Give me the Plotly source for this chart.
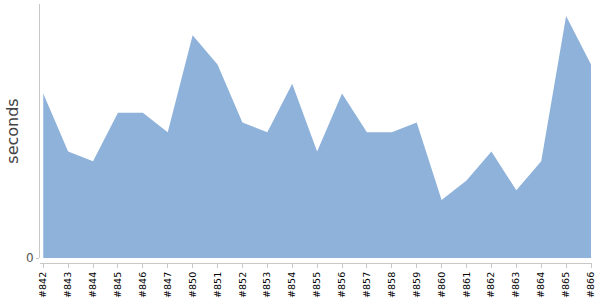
import plotly.graph_objects as go

builds = ["#842", "#843", "#844", "#845", "#846", "#847", "#850", "#851", "#852", "#853",
          "#854", "#855", "#856", "#857", "#858", "#859", "#860", "#861", "#862", "#863",
          "#864", "#865", "#866"]
seconds = [17, 11, 10, 15, 15, 13, 23, 20, 14, 13,
           18, 11, 17, 13, 13, 14, 6, 8, 11, 7,
           10, 25, 20]

fig = go.Figure()
fig.add_trace(go.Scatter(
    x=list(range(len(builds))), y=seconds, mode="lines",
    fill="tozeroy", fillcolor="rgb(143,178,218)",
    line=dict(width=0, color="rgb(143,178,218)"),
    hoverinfo="skip", showlegend=False,
))

fig.update_layout(
    width=600, height=300,
    margin=dict(l=40, r=8, t=4, b=37),
    paper_bgcolor="white", plot_bgcolor="white",
    font=dict(family="DejaVu Sans", color="#000"),
    xaxis=dict(
        range=[-0.13, 22.04],
        anchor="free", position=0, automargin=False,
        tickmode="array", tickvals=list(range(len(builds))), ticktext=builds,
        tickangle=-90, tickfont=dict(family="DejaVu Sans", size=9.5, color="#000"),
        showgrid=False, zeroline=False,
        showline=True, linecolor="#c8c8c8", linewidth=1,
        ticks="outside", ticklen=4, tickcolor="#c8c8c8",
    ),
    yaxis=dict(
        domain=[5 / 259, 1], automargin=False,
        range=[0, 26.24],
        tickmode="array", tickvals=[0], ticktext=["0"],
        tickfont=dict(size=12, color="#555"),
        showgrid=False, zeroline=False,
        showline=True, linecolor="#c8c8c8", linewidth=1,
        ticks="outside", ticklen=3, tickcolor="#c8c8c8",
        title=dict(text="seconds", font=dict(size=16, color="#444"), standoff=3),
    ),
)

fig.write_html("out.html")
